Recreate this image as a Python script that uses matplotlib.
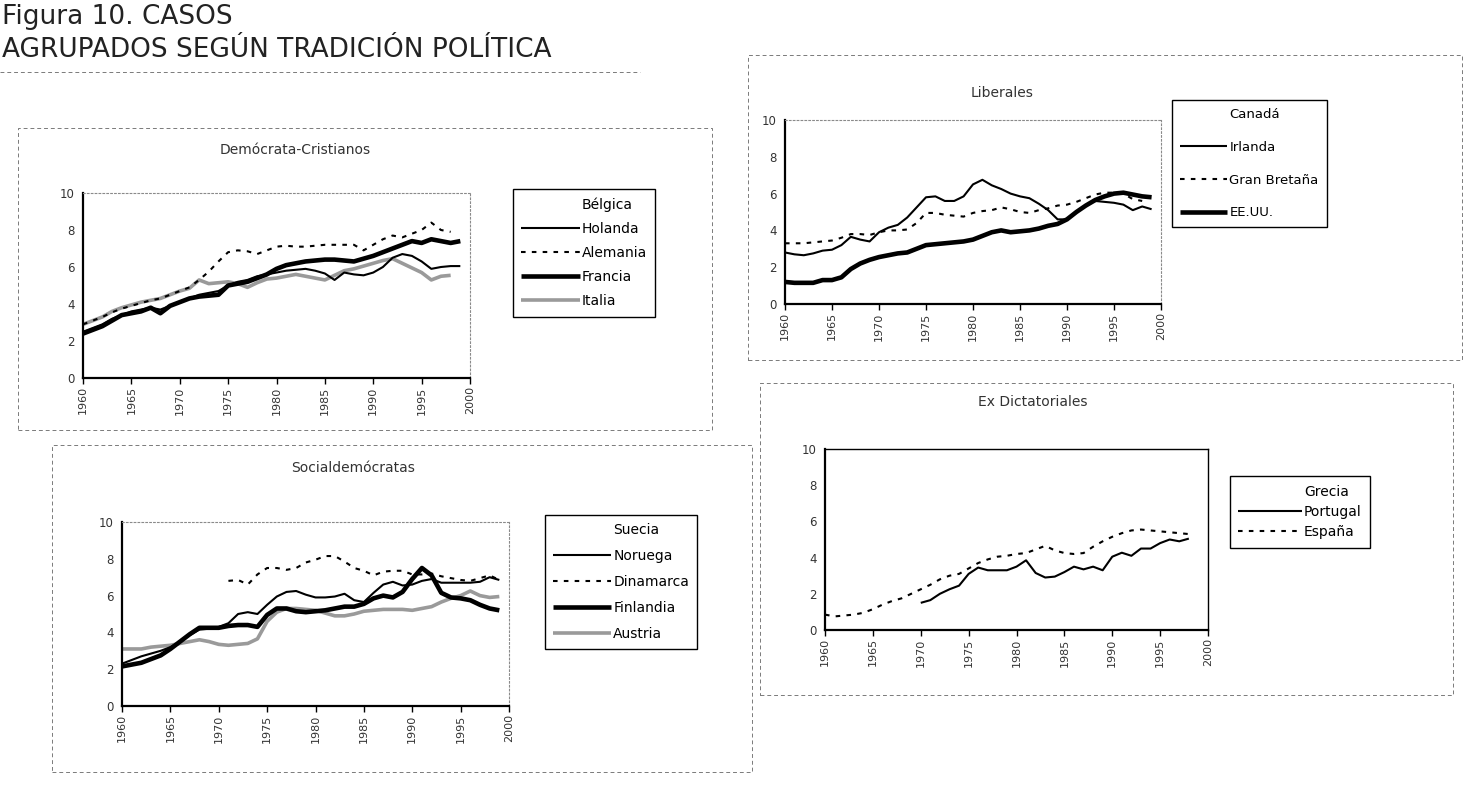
import matplotlib
matplotlib.use("Agg")
import matplotlib.pyplot as plt
from matplotlib.patches import Rectangle
from matplotlib.lines import Line2D

# ---------------- data ----------------
years_60_99 = list(range(1960, 2000))
years_60_98 = list(range(1960, 1999))
years_71_99 = list(range(1971, 2000))
years_70_98 = list(range(1970, 1999))

# Demócrata-Cristianos
holanda = [2.5, 2.7, 2.9, 3.2, 3.4, 3.6, 3.7, 3.8, 3.7, 3.9, 4.1, 4.3, 4.5, 4.6, 4.7,
           5.0, 5.2, 5.3, 5.5, 5.6, 5.7, 5.8, 5.85, 5.9, 5.8, 5.65, 5.3, 5.7, 5.6, 5.55,
           5.7, 6.0, 6.5, 6.7, 6.6, 6.3, 5.9, 6.0, 6.05, 6.05]
alemania = [2.9, 3.1, 3.3, 3.55, 3.75, 3.9, 4.05, 4.2, 4.3, 4.5, 4.7, 4.9, 5.3, 5.75, 6.3,
            6.8, 6.9, 6.85, 6.7, 6.9, 7.1, 7.15, 7.1, 7.1, 7.15, 7.2, 7.2, 7.2, 7.2, 6.9,
            7.2, 7.5, 7.7, 7.6, 7.8, 8.0, 8.4, 8.0, 7.9]
francia = [2.4, 2.6, 2.8, 3.1, 3.4, 3.5, 3.6, 3.8, 3.5, 3.9, 4.1, 4.3, 4.4, 4.45, 4.5,
           5.0, 5.1, 5.2, 5.4, 5.6, 5.9, 6.1, 6.2, 6.3, 6.35, 6.4, 6.4, 6.35, 6.3, 6.45,
           6.6, 6.8, 7.0, 7.2, 7.4, 7.3, 7.5, 7.4, 7.3, 7.4]
italia = [2.9, 3.1, 3.3, 3.6, 3.8, 3.95, 4.1, 4.2, 4.3, 4.5, 4.7, 4.85, 5.3, 5.1, 5.15,
          5.2, 5.1, 4.9, 5.15, 5.35, 5.4, 5.5, 5.6, 5.5, 5.4, 5.3, 5.55, 5.8, 5.9, 6.05,
          6.2, 6.35, 6.45, 6.2, 5.95, 5.7, 5.3, 5.5, 5.55]

# Liberales
irlanda = [2.8, 2.7, 2.65, 2.75, 2.9, 2.95, 3.2, 3.65, 3.5, 3.4, 3.9, 4.15, 4.3, 4.7, 5.25,
           5.8, 5.85, 5.6, 5.6, 5.85, 6.5, 6.75, 6.45, 6.25, 6.0, 5.85, 5.75, 5.45, 5.1, 4.6,
           4.6, 5.0, 5.35, 5.6, 5.55, 5.5, 5.4, 5.1, 5.3, 5.15]
gran_bretana = [3.3, 3.3, 3.3, 3.35, 3.4, 3.45, 3.6, 3.8, 3.8, 3.75, 3.9, 4.0, 4.0, 4.05, 4.4,
                4.95, 4.95, 4.85, 4.8, 4.75, 4.95, 5.05, 5.1, 5.25, 5.15, 5.0, 4.95, 5.1, 5.2, 5.35,
                5.4, 5.55, 5.75, 5.95, 6.05, 6.05, 6.0, 5.7, 5.6]
eeuu = [1.2, 1.15, 1.15, 1.15, 1.3, 1.3, 1.45, 1.9, 2.2, 2.4, 2.55, 2.65, 2.75, 2.8, 3.0,
        3.2, 3.25, 3.3, 3.35, 3.4, 3.5, 3.7, 3.9, 4.0, 3.9, 3.95, 4.0, 4.1, 4.25, 4.35,
        4.6, 5.0, 5.35, 5.65, 5.85, 6.0, 6.05, 5.95, 5.85, 5.8]

# Socialdemócratas
noruega = [2.3, 2.5, 2.7, 2.85, 3.0, 3.2, 3.5, 3.85, 4.15, 4.2, 4.3, 4.5, 5.0, 5.1, 5.0,
           5.5, 5.95, 6.2, 6.25, 6.05, 5.9, 5.9, 5.95, 6.1, 5.75, 5.65, 6.15, 6.6, 6.75, 6.55,
           6.6, 6.8, 6.9, 6.7, 6.7, 6.7, 6.7, 6.75, 7.0, 6.85]
dinamarca = [6.8, 6.85, 6.6, 7.15, 7.5, 7.5, 7.4, 7.5, 7.8, 7.95, 8.15, 8.15, 7.85, 7.5, 7.35,
             7.1, 7.3, 7.35, 7.35, 7.15, 7.15, 7.2, 7.05, 6.95, 6.85, 6.8, 6.95, 7.1, 6.85]
finlandia = [2.15, 2.25, 2.35, 2.55, 2.75, 3.1, 3.5, 3.9, 4.25, 4.25, 4.25, 4.35, 4.4, 4.4, 4.3,
             4.95, 5.3, 5.3, 5.15, 5.1, 5.15, 5.2, 5.3, 5.4, 5.4, 5.55, 5.85, 6.0, 5.9, 6.2,
             6.9, 7.5, 7.1, 6.15, 5.9, 5.85, 5.75, 5.5, 5.3, 5.2]
austria = [3.1, 3.1, 3.1, 3.2, 3.25, 3.3, 3.4, 3.5, 3.6, 3.5, 3.35, 3.3, 3.35, 3.4, 3.65,
           4.6, 5.1, 5.3, 5.3, 5.25, 5.2, 5.05, 4.9, 4.9, 5.0, 5.15, 5.2, 5.25, 5.25, 5.25,
           5.2, 5.3, 5.4, 5.65, 5.85, 6.0, 6.25, 6.0, 5.9, 5.95]

# Ex Dictatoriales
portugal = [1.5, 1.65, 2.0, 2.25, 2.45, 3.1, 3.45, 3.3, 3.3, 3.3, 3.5, 3.85, 3.15, 2.9, 2.95,
            3.2, 3.5, 3.35, 3.5, 3.3, 4.05, 4.27, 4.1, 4.5, 4.5, 4.8, 5.0, 4.9, 5.05]
espana = [0.85, 0.75, 0.8, 0.85, 0.95, 1.15, 1.4, 1.6, 1.75, 2.0, 2.25, 2.5, 2.8, 3.0, 3.1,
          3.4, 3.7, 3.9, 4.05, 4.1, 4.2, 4.25, 4.45, 4.65, 4.4, 4.25, 4.2, 4.25, 4.6, 4.9,
          5.15, 5.35, 5.5, 5.55, 5.5, 5.45, 5.4, 5.35, 5.3]

x_ticks = [1960, 1965, 1970, 1975, 1980, 1985, 1990, 1995, 2000]
y_ticks = [0, 2, 4, 6, 8, 10]

header_1 = "Figura 10. CASOS"
header_2 = "AGRUPADOS SEGÚN TRADICIÓN POLÍTICA"

# ---------------- styles ----------------
THIN = dict(color="black", lw=1.5, solid_capstyle="butt")
DASH = dict(color="black", lw=1.5, ls=(0, (2.2, 3.0)))
THICK = dict(color="black", lw=3.3, solid_capstyle="butt")
GRAY = dict(color="#9a9a9a", lw=2.6, solid_capstyle="butt")
NONE = dict(color="none", lw=0)

plt.rcParams["font.family"] = ["DejaVu Sans"]

W, H = 1465, 788
fig = plt.figure(figsize=(W / 100, H / 100), dpi=100)


def box_axes(x0, y0, x1, y1):
    return fig.add_axes([x0 / W, 1 - y1 / H, (x1 - x0) / W, (y1 - y0) / H])


def border(x0, y0, x1, y1):
    fig.add_artist(Rectangle((x0 / W, 1 - y1 / H), (x1 - x0) / W, (y1 - y0) / H,
                             transform=fig.transFigure, fill=False, ec="#7a7a7a",
                             lw=0.7, ls=(0, (4, 3))))


panels = [
    dict(title="Demócrata-Cristianos", tpos=(295, 150), border=(18, 128, 712, 430),
         box=(83, 193, 470, 378), solid_frame=False,
         series=[("Bélgica", [], [], NONE),
                 ("Holanda", years_60_99, holanda, THIN),
                 ("Alemania", years_60_98, alemania, DASH),
                 ("Francia", years_60_99, francia, THICK),
                 ("Italia", years_60_98, italia, GRAY)],
         order=[4, 2, 1, 3],
         leg=("center", 584, 253), lspace=0.72, lfs=10, hl=4.2),
    dict(title="Liberales", tpos=(1002, 93), border=(748, 55, 1462, 360),
         box=(785, 120, 1161, 304), solid_frame=False,
         series=[("Canadá", [], [], NONE),
                 ("Irlanda", years_60_99, irlanda, THIN),
                 ("Gran Bretaña", years_60_98, gran_bretana, DASH),
                 ("EE.UU.", years_60_99, eeuu, THICK)],
         order=[2, 1, 3],
         leg=("upper left", 1172, 100), lspace=1.5, lfs=9.5, hl=3.6),
    dict(title="Socialdemócratas", tpos=(353, 468), border=(52, 445, 752, 772),
         box=(122, 522, 509, 706), solid_frame=False,
         series=[("Suecia", [], [], NONE),
                 ("Noruega", years_60_99, noruega, THIN),
                 ("Dinamarca", years_71_99, dinamarca, DASH),
                 ("Finlandia", years_60_99, finlandia, THICK),
                 ("Austria", years_60_99, austria, GRAY)],
         order=[4, 2, 1, 3],
         leg=("center", 621, 582), lspace=0.85, lfs=10, hl=4.2),
    dict(title="Ex Dictatoriales", tpos=(1033, 402), border=(760, 383, 1453, 695),
         box=(825, 449, 1208, 630), solid_frame=True,
         series=[("Grecia", [], [], NONE),
                 ("Portugal", years_70_98, portugal, THIN),
                 ("España", years_60_98, espana, DASH)],
         order=[2, 1],
         leg=("center", 1300, 512), lspace=0.45, lfs=10, hl=4.6),
]

for p in panels:
    border(*p["border"])
    ax = box_axes(*p["box"])
    handles = []
    for label, xs, ys, st in p["series"]:
        (h,) = ax.plot(xs, ys, label=label, **st)
        handles.append(h)
    # draw order: thick / gray beneath thin lines
    for k, idx in enumerate(p["order"]):
        handles[idx].set_zorder(2 + k * 0.1)
    ax.set_xlim(1960, 2000)
    ax.set_ylim(0, 10)
    ax.set_xticks(x_ticks)
    ax.set_yticks(y_ticks)
    ax.tick_params(axis="x", labelrotation=90, labelsize=8, length=4, width=1,
                   direction="out", pad=2, colors="black")
    ax.tick_params(axis="y", labelsize=8.5, length=0, pad=6, colors="black")
    for lab in ax.get_xticklabels():
        lab.set_color("#333333")
    for lab in ax.get_yticklabels():
        lab.set_color("#333333")
    for s in ("left", "bottom"):
        ax.spines[s].set_linewidth(1.6)
        ax.spines[s].set_color("black")
    for s in ("top", "right"):
        if p["solid_frame"]:
            ax.spines[s].set_linewidth(1.0)
            ax.spines[s].set_color("black")
        else:
            ax.spines[s].set_linewidth(0.8)
            ax.spines[s].set_color("#8a8a8a")
            ax.spines[s].set_linestyle((0, (1.5, 2)))
    ax.patch.set_alpha(0)
    fig.text(p["tpos"][0] / W, 1 - p["tpos"][1] / H, p["title"], ha="center",
             va="center", fontsize=10, color="#333333")
    loc, lx, ly = p["leg"]
    leg = ax.legend(handles=handles, loc=loc, bbox_to_anchor=(lx / W, 1 - ly / H),
                    bbox_transform=fig.transFigure, frameon=True, fancybox=False,
                    edgecolor="black", framealpha=1, fontsize=p["lfs"],
                    handlelength=p["hl"], handletextpad=0.15,
                    labelspacing=p["lspace"], borderpad=0.6, borderaxespad=0)
    leg.get_frame().set_linewidth(1.0)
    for t in leg.get_texts():
        t.set_color("black")

# ---------------- header ----------------
fig.text(2 / W, 1 - 24 / H, header_1, ha="left", va="baseline", fontsize=19,
         color="#222222")
fig.text(2 / W, 1 - 57 / H, header_2, ha="left", va="baseline", fontsize=19,
         color="#222222")
fig.add_artist(Line2D([0, 640 / W], [1 - 72 / H, 1 - 72 / H], transform=fig.transFigure,
                      color="#7a7a7a", lw=0.7, ls=(0, (4, 3))))

fig.savefig("out.png", dpi=100, facecolor="white")
